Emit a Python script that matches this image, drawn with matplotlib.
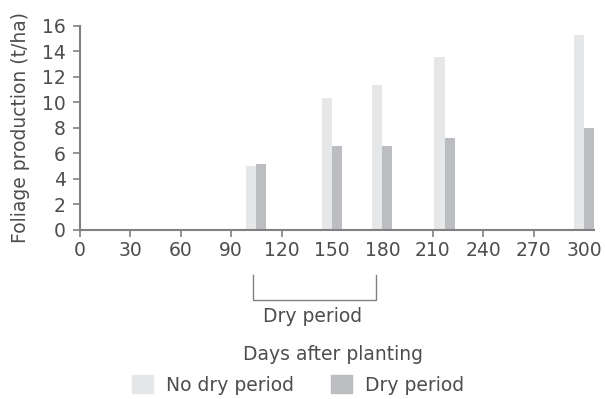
import matplotlib
matplotlib.use('Agg')
import matplotlib.pyplot as plt
from matplotlib.patches import Patch

# Data
days = [105, 150, 180, 217, 300]
no_dry = [5.0, 10.35, 11.4, 13.6, 15.3]
dry = [5.2, 6.6, 6.6, 7.2, 8.0]
xticks = [0, 30, 60, 90, 120, 150, 180, 210, 240, 270, 300]
yticks = [0, 2, 4, 6, 8, 10, 12, 14, 16]
dry_span = [103, 176]

light = '#e6e7e8'
dark = '#bcbdc0'
axis_col = '#808080'
text_col = '#4d4d4d'
fs = 13.5

plt.rcParams['font.family'] = ['DejaVu Sans']

fig = plt.figure(figsize=(6.05, 3.99), dpi=100)
ax = fig.add_axes([0.132, 0.424, 0.85, 0.511])

w = 6
ax.bar([d - w / 2 for d in days], no_dry, width=w, color=light, label='No dry period')
ax.bar([d + w / 2 for d in days], dry, width=w, color=dark, label='Dry period')

ax.set_xlim(0, 306)
ax.set_ylim(0, 16)
ax.set_xticks(xticks)
ax.set_yticks(yticks)
ax.tick_params(colors=axis_col, labelcolor=text_col, labelsize=fs, length=5, width=1.2)
ax.tick_params(axis='x', pad=3)
ax.tick_params(axis='y', pad=5)

# no tick marks drawn at 150, 180 and 300 in the original
for tick, val in zip(ax.xaxis.get_major_ticks(), xticks):
    if val in (150, 180, 300):
        tick.tick1line.set_visible(False)

for s in ['top', 'right']:
    ax.spines[s].set_visible(False)
for s in ['left', 'bottom']:
    ax.spines[s].set_color(axis_col)
    ax.spines[s].set_linewidth(1.5)

ax.set_ylabel('Foliage production (t/ha)', fontsize=fs, color=text_col, labelpad=9)

# dry period bracket under the axis
ax.plot([dry_span[0], dry_span[0], dry_span[1], dry_span[1]], [-3.55, -5.5, -5.5, -3.55],
        color=axis_col, lw=1, clip_on=False)
fig.text(313 / 605, 1 - 317 / 399, 'Dry period', ha='center', va='center', fontsize=fs, color=text_col)
fig.text(333 / 605, 1 - 354 / 399, 'Days after planting', ha='center', va='center', fontsize=fs, color=text_col)

handles = [Patch(color=light, label='No dry period'), Patch(color=dark, label='Dry period')]
fig.legend(handles=handles, loc='center', bbox_to_anchor=(0.493, 1 - 385 / 399), ncol=2,
           frameon=False, fontsize=fs, handlelength=1.1, handleheight=1.1, handletextpad=0.7,
           columnspacing=2.0, labelcolor=text_col)

plt.savefig('out.png', dpi=100)
